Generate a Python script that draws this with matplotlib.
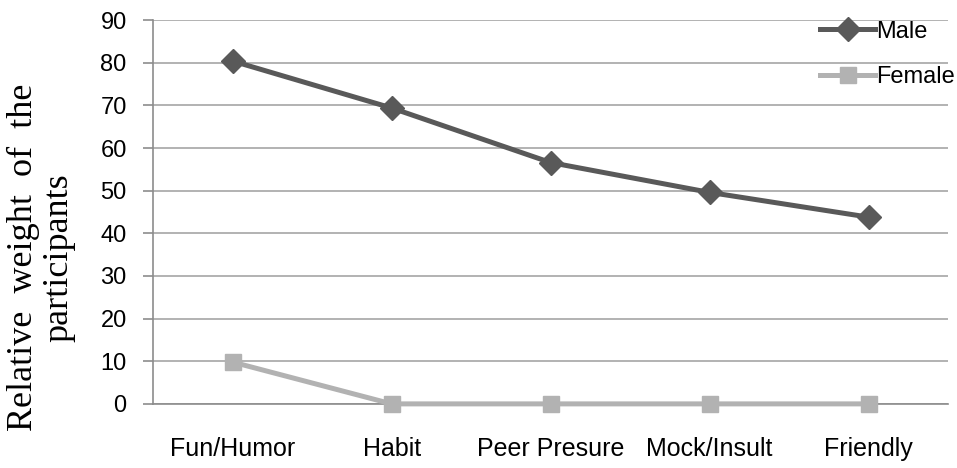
import matplotlib
matplotlib.use("Agg")
import matplotlib.pyplot as plt
from matplotlib import font_manager

categories = ["Fun/Humor", "Habit", "Peer Presure", "Mock/Insult", "Friendly"]
male = [80.4, 69.4, 56.6, 49.6, 43.8]
female = [9.8, 0, 0, 0, 0]
y_ticks = [0, 10, 20, 30, 40, 50, 60, 70, 80, 90]

names = {f.name for f in font_manager.fontManager.ttflist}
narrow = "Liberation Sans Narrow" if "Liberation Sans Narrow" in names else "Liberation Sans"

fig = plt.figure(figsize=(9.57, 4.68), dpi=100)
ax = fig.add_axes([0.16, 0.137, 0.8306, 0.82])

x = range(len(categories))
ax.plot(x, male, color="#595959", linewidth=3.6, marker="D", markersize=12,
        label="Male", zorder=3, clip_on=False)
ax.plot(x, female, color="#b2b2b2", linewidth=3.6, marker="s", markersize=12,
        label="Female", zorder=3, clip_on=False)

ax.set_xlim(-0.5, len(categories) - 0.5)
ax.set_ylim(0, 90)
ax.set_yticks(y_ticks)
ax.set_xticks(list(x))
ax.set_xticklabels(categories, fontsize=18, family=narrow)
for lbl in ax.get_yticklabels():
    lbl.set_fontsize(17)
    lbl.set_family("Liberation Sans")

ax.grid(axis="y", color="#a6a6a6", linewidth=1.2)
ax.set_axisbelow(True)
for side in ["top", "right"]:
    ax.spines[side].set_visible(False)
ax.spines["left"].set_color("#8c8c8c")
ax.spines["left"].set_linewidth(1.2)
ax.spines["bottom"].set_color("#8c8c8c")
ax.spines["bottom"].set_linewidth(1.2)
ax.tick_params(axis="y", length=7, color="#8c8c8c", width=1.2, pad=12)
ax.tick_params(axis="x", length=0, pad=24)

fig.text(0.024, 0.45, "Relative  weight  of  the", rotation=90, ha="center",
         va="center", fontsize=26, family="Liberation Serif")
fig.text(0.062, 0.45, "participants", rotation=90, ha="center",
         va="center", fontsize=26, family="Liberation Serif")

ax.legend(loc="upper left", bbox_to_anchor=(0.845, 0.981),
          bbox_transform=fig.transFigure, frameon=False,
          prop={"family": narrow, "size": 17}, handlelength=2.3,
          handletextpad=0.05, labelspacing=1.0, borderpad=0)

fig.savefig("out.png", dpi=100)
